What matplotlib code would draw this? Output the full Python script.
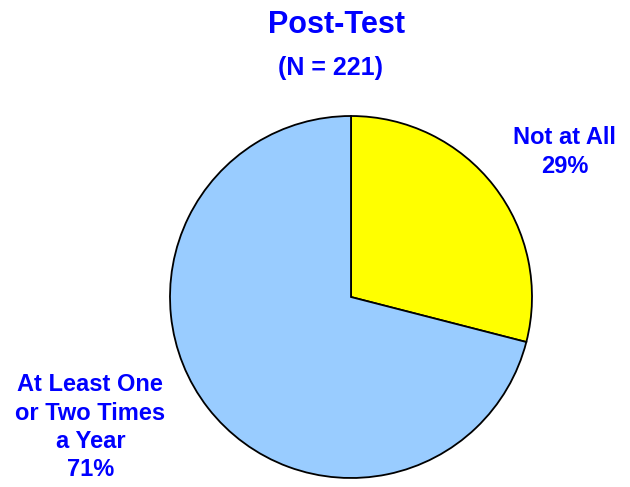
import matplotlib.pyplot as plt

plt.rcParams['font.family'] = ['Liberation Sans', 'DejaVu Sans']

title = 'Post-Test'
subtitle = '(N = 221)'
labels = ['Not at All', 'At Least One\nor Two Times\na Year']
values = [29, 71]
colors = ['#FFFF00', '#99CCFF']
text_blue = '#0000FF'

W, H = 630, 487
cx, cy, r = 351, 297, 181  # pie centre / radius in pixels

fig = plt.figure(figsize=(W / 100, H / 100), dpi=100)
ax = fig.add_axes([0, 0, 1, 1])
ax.pie(values, colors=colors, startangle=90, counterclock=False,
       wedgeprops=dict(edgecolor='black', linewidth=1.3))
ax.set_aspect('auto')
ax.set_xlim(-cx / r, (W - cx) / r)
ax.set_ylim((cy - H) / r, cy / r)
ax.axis('off')

# slice labels
ax.text(1.18, 0.80, '%s\n%d%%' % (labels[0], values[0]), ha='center', va='center',
        fontsize=17, fontweight='bold', color=text_blue, linespacing=1.3)
ax.text(-1.44, -0.72, '%s\n%d%%' % (labels[1], values[1]), ha='center', va='center',
        fontsize=17, fontweight='bold', color=text_blue, linespacing=1.3)

fig.text(337 / W, 1 - 33 / H, title, ha='center', va='baseline',
         fontsize=22, fontweight='bold', color=text_blue)
fig.text(331 / W, 1 - 75 / H, subtitle, ha='center', va='baseline',
         fontsize=18, fontweight='bold', color=text_blue)

fig.savefig('out.png', dpi=100)
